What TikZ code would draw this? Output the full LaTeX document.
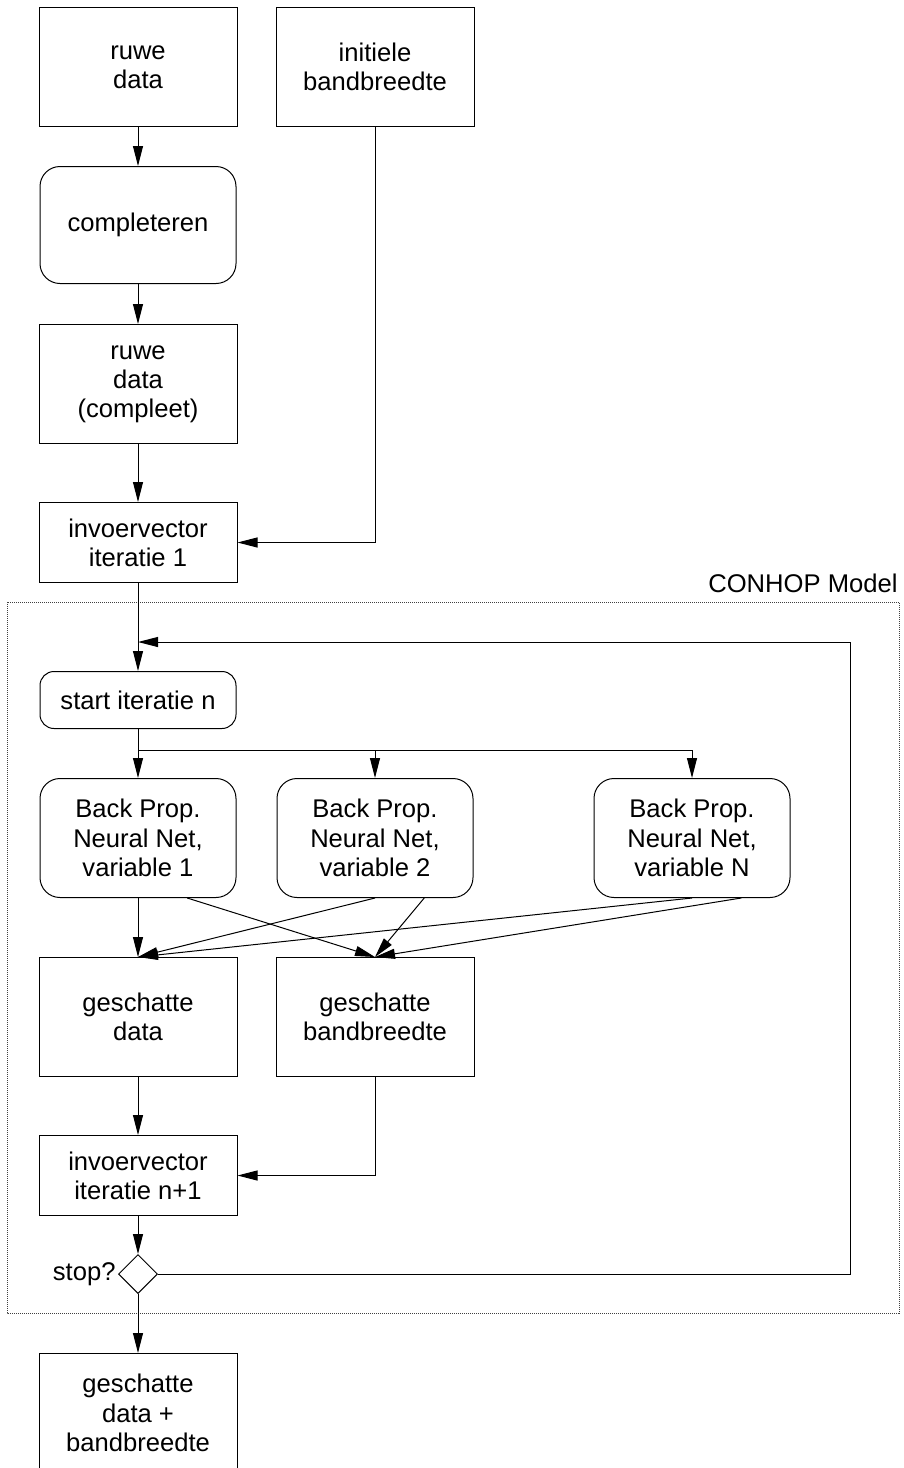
\documentclass[tikz,border=0pt]{standalone}
\usepackage{fontspec}
\setmainfont{Liberation Sans}
\usetikzlibrary{arrows.meta,positioning,calc,shapes.geometric}

\begin{document}
\begin{tikzpicture}[
  x=0.5pt, y=0.5pt,
  font=\fontsize{12.8}{14.6}\selectfont,
  line width=0.5pt,
  box/.style={draw, align=center, inner sep=2pt, minimum width=99pt, minimum height=59.5pt},
  vecbox/.style={box, minimum height=40pt},
  proc/.style={box, rounded corners=10pt, minimum width=98pt},
  startbox/.style={draw, rounded corners=7pt, align=center, minimum width=98pt, minimum height=28.5pt},
  choice/.style={draw, diamond, inner sep=0pt, minimum width=19.5pt, minimum height=19.5pt},
  arr/.style={-{Triangle[length=10pt,width=5pt]}},
  frame/.style={draw=black!75, dash pattern=on 0.5pt off 0.5pt}
]
\useasboundingbox (0,0) rectangle (904,-1468);

% invoer
\node[box] (rauw) at (138,-67) {ruwe\\data};
\node[box, right=19pt of rauw] (bbinit) {initiele\\bandbreedte};
\node[proc, below=19.5pt of rauw, minimum height=58.5pt] (compl) {completeren};
\node[box, below=20pt of compl] (rauwc) {ruwe\\data\\(compleet)};
\node[vecbox, below=29pt of rauwc] (vec1) {invoervector\\iteratie 1};

% CONHOP model
\draw[frame] (7,-602) rectangle (899,-1313);
\node[anchor=base east, inner sep=0pt] (conhop) at (898,-592) {CONHOP Model};
\node[startbox, below=44pt of vec1] (start) {start iteratie n};
\node[proc, below=24.5pt of start] (bp1) {Back Prop.\\Neural Net,\\variable 1};
\node[proc, right=20pt of bp1] (bp2) {Back Prop.\\Neural Net,\\variable 2};
\node[proc, right=60pt of bp2] (bpn) {Back Prop.\\Neural Net,\\variable N};
\node[box, below=29.5pt of bp1] (gdata) {geschatte\\data};
\node[box, right=19pt of gdata] (gbb) {geschatte\\bandbreedte};
\node[vecbox, below=29pt of gdata] (vecn) {invoervector\\iteratie n+1};
\node[choice, below=19pt of vecn] (stop) {};
\node[left=0pt of stop, inner sep=1pt] (stoplbl) {stop?};

% uitvoer
\node[box, below=29.5pt of stop] (eind) {geschatte\\data +\\bandbreedte};

\coordinate (lus) at (138,-642);
\coordinate (hoek) at (850,-642);
\coordinate (splits) at ($(start.south)+(0,-10.5pt)$);

\draw[arr] (rauw) -- (compl);
\draw[arr] (compl) -- (rauwc);
\draw[arr] (rauwc) -- (vec1);
\draw[arr] (bbinit) |- (vec1);
\draw[arr] (vec1) -- (start);
\draw[arr] (start) -- (bp1);
\draw[arr] (splits) -| (bp2);
\draw[arr] (splits) -| (bpn);
\draw[arr] (bp1) -- (gdata);
\draw[arr] ($(bp1.south)!0.5!(bp1.south east)$) -- (gbb.north);
\draw[arr] (bp2.south) -- (gdata.north);
\draw[arr] ($(bp2.south)!0.5!(bp2.south east)$) -- (gbb.north);
\draw[arr] (bpn.south) -- (gdata.north);
\draw[arr] ($(bpn.south)!0.5!(bpn.south east)$) -- (gbb.north);
\draw[arr] (gdata) -- (vecn);
\draw[arr] (gbb) |- (vecn);
\draw[arr] (vecn) -- (stop);
\draw[arr] (stop.east) -| (hoek) -- (lus);
\draw[arr] (stop) -- (eind);
\end{tikzpicture}
\end{document}
